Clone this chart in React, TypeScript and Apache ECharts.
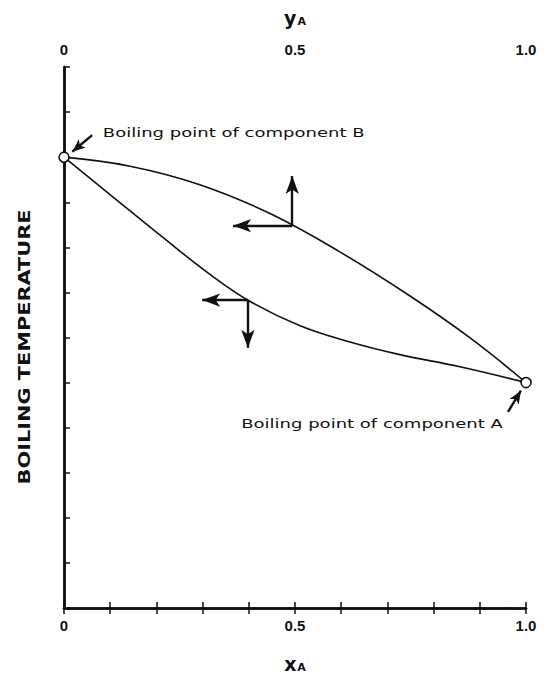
import React, { useEffect, useRef } from 'react';
import * as echarts from 'echarts';

// Liquid (bubble-point) curve: x_A vs boiling temperature (arbitrary units)
const liquidX = [0, 0.0996, 0.208, 0.316, 0.403, 0.511, 0.619, 0.727, 0.857, 1];
const liquidT = [10.0, 9.17, 8.27, 7.4, 6.8, 6.26, 5.9, 5.62, 5.35, 5.0];
// Vapor (dew-point) curve: y_A vs boiling temperature
const vaporY = [0, 0.143, 0.294, 0.446, 0.597, 0.749, 0.879, 1];
const vaporT = [10.0, 9.8, 9.39, 8.75, 7.9, 6.92, 5.99, 5.0];
// Pure component boiling points (B at x=0, A at x=1)
const boilingPoints = [
  [0, 10.0],
  [1, 5.0],
];
const compLabels = ['0', '0.5', '1.0'];
const tempMax = 12;
// direction arrows on the curves: [start, end]
const directionArrows = [
  [[0.494, 8.48], [0.494, 9.58]],
  [[0.494, 8.48], [0.366, 8.48]],
  [[0.398, 6.83], [0.299, 6.83]],
  [[0.398, 6.83], [0.398, 5.77]],
];
// pointer arrows to the boiling points
const pointerArrows = [
  [[0.061, 10.49], [0.018, 10.12]],
  [[0.961, 4.35], [0.989, 4.82]],
];
const noteB = 'Boiling point of component B';
const noteA = 'Boiling point of component A';
const noteBAnchor = [0.084, 10.54];
const noteAAnchor = [0.95, 4.1];
const yTitle = 'BOILING TEMPERATURE';

const fmt = (v: number) => {
  if (Math.abs(v) < 1e-6) return compLabels[0];
  if (Math.abs(v - 0.5) < 1e-6) return compLabels[1];
  if (Math.abs(v - 1) < 1e-6) return compLabels[2];
  return '';
};

function measure(text: string, font: string) {
  const c = document.createElement('canvas').getContext('2d')!;
  c.font = font;
  return c.measureText(text).width;
}

export default function App() {
  const ref = useRef<HTMLDivElement>(null);
  useEffect(() => {
    if (!ref.current) return;
    const chart = echarts.init(ref.current, undefined, { renderer: 'svg' });
    const black = '#111';
    const labelStyle = {
      color: black,
      fontFamily: 'Liberation Sans',
      fontSize: 15,
      fontWeight: 'bold' as const,
      formatter: fmt,
      showMinLabel: true,
      showMaxLabel: true,
    };
    const tick = { show: true, inside: true, length: 6, lineStyle: { color: black, width: 1.5 } };
    const axLine = { show: true, lineStyle: { color: black, width: 2.5 } };
    const nameRich = {
      v: { fontFamily: 'DejaVu Sans', fontSize: 19, fontWeight: 'bold' as const, color: black },
      s: { fontFamily: 'DejaVu Sans', fontSize: 11, fontWeight: 'bold' as const, color: black, padding: [8, 0, 0, 1] },
    };
    const arrowLines = (arr: number[][][]) =>
      arr.map((a) => [{ coord: a[0] }, { coord: a[1] }]);

    chart.setOption({
      animation: false,
      backgroundColor: '#fff',
      grid: { left: 64, right: 17, top: 67, bottom: 71 },
      xAxis: [
        {
          type: 'value', min: 0, max: 1, interval: 0.1, position: 'bottom',
          name: '{v|x}{s|A}', nameLocation: 'middle', nameGap: 46,
          nameTextStyle: { rich: nameRich },
          axisLine: axLine, axisTick: tick, splitLine: { show: false },
          axisLabel: { ...labelStyle, margin: 10 },
        },
        {
          type: 'value', min: 0, max: 1, interval: 0.1, position: 'top',
          name: '{v|y}{s|A}', nameLocation: 'middle', nameGap: 40,
          nameTextStyle: { rich: nameRich },
          axisLine: axLine, axisTick: tick, splitLine: { show: false },
          axisLabel: { ...labelStyle, margin: 10 },
        },
      ],
      yAxis: [
        {
          type: 'value', min: 0, max: tempMax, interval: 1, position: 'left',
          axisLine: axLine, axisTick: tick, splitLine: { show: false },
          axisLabel: { show: false },
        },
        {
          type: 'value', min: 0, max: tempMax, interval: 1, position: 'right',
          axisLine: axLine, axisTick: { show: false }, splitLine: { show: false },
          axisLabel: { show: false },
        },
      ],
      series: [
        {
          type: 'line', name: 'vapor', xAxisIndex: 1,
          data: vaporY.map((x, i) => [x, vaporT[i]]),
          smooth: 0.4, symbol: 'none',
          lineStyle: { color: black, width: 1.6 },
          z: 2,
        },
        {
          type: 'line', name: 'liquid',
          data: liquidX.map((x, i) => [x, liquidT[i]]),
          smooth: 0.4, symbol: 'none',
          lineStyle: { color: black, width: 1.6 },
          z: 2,
          markLine: {
            silent: true, animation: false,
            symbol: ['none', 'arrow'], symbolSize: [10, 18],
            label: { show: false },
            lineStyle: { color: black, width: 2.4, type: 'solid' },
            data: arrowLines(directionArrows),
          },
        },
        {
          type: 'line', name: 'pointers', data: [],
          markLine: {
            silent: true, animation: false,
            symbol: ['none', 'arrow'], symbolSize: [8, 13],
            label: { show: false },
            lineStyle: { color: black, width: 2.4, type: 'solid' },
            data: arrowLines(pointerArrows),
          },
        },
        {
          type: 'scatter', name: 'boiling points',
          data: boilingPoints,
          symbol: 'circle', symbolSize: 10,
          itemStyle: { color: '#fff', borderColor: black, borderWidth: 1.6, opacity: 1 },
          z: 5,
        },
      ],
    });

    const noteFont = '13px "DejaVu Sans"';
    const noteScale = 262 / measure(noteB, noteFont);
    const titleFont = 'bold 15px "DejaVu Sans"';
    const titleScale = 275 / measure(yTitle, titleFont);
    const pB = chart.convertToPixel({ xAxisIndex: 0, yAxisIndex: 0 }, noteBAnchor);
    const pA = chart.convertToPixel({ xAxisIndex: 0, yAxisIndex: 0 }, noteAAnchor);
    chart.setOption({
      graphic: [
        {
          type: 'text', x: pB[0], y: pB[1], scaleX: noteScale,
          style: { text: noteB, font: noteFont, fill: black, textAlign: 'left', textVerticalAlign: 'middle' },
        },
        {
          type: 'text', x: pA[0], y: pA[1], scaleX: noteScale,
          style: { text: noteA, font: noteFont, fill: black, textAlign: 'right', textVerticalAlign: 'middle' },
        },
        {
          type: 'text', x: 25, y: 347, rotation: Math.PI / 2, scaleX: titleScale,
          style: { text: yTitle, font: titleFont, fill: black, textAlign: 'center', textVerticalAlign: 'middle' },
        },
      ],
    });
    return () => chart.dispose();
  }, []);
  return (
    <div
      ref={ref}
      style={{ position: 'fixed', left: 0, top: 0, width: 543, height: 679, background: '#fff' }}
    />
  );
}
